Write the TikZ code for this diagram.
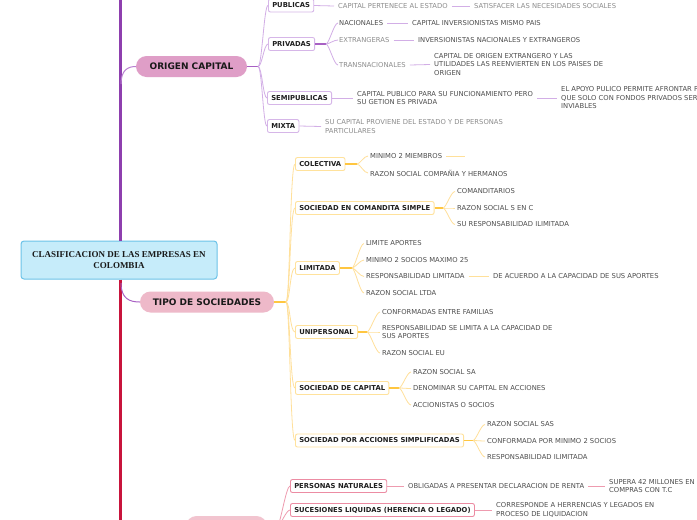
\documentclass[tikz,border=0pt]{standalone}
\usepackage{fontspec}
\newfontfamily\lbl{DejaVu Sans}
\newfontfamily\ttl{Liberation Serif}
\usetikzlibrary{calc}
\definecolor{trunkp}{HTML}{8E3FAE}
\definecolor{trunkr}{HTML}{C8143C}
\definecolor{cenfill}{HTML}{C6ECFA}
\definecolor{cenline}{HTML}{6CC3E8}
\definecolor{ocfill}{HTML}{DF9EC7}
\definecolor{tsfill}{HTML}{EEB9C9}
\definecolor{bpfill}{HTML}{F2C4CF}
\definecolor{pstem}{HTML}{A860C4}
\definecolor{pbr}{HTML}{D2AEE6}
\definecolor{pbox}{HTML}{D6B6E8}
\definecolor{ystem}{HTML}{FFC640}
\definecolor{ybr}{HTML}{FFE09A}
\definecolor{ybox}{HTML}{FFE29C}
\definecolor{rbr}{HTML}{EE9BAF}
\definecolor{rbox}{HTML}{EC8CA3}
\definecolor{txtg}{HTML}{4D4D4D}
\definecolor{txtl}{HTML}{8C8C8C}
\begin{document}
\begin{tikzpicture}[x=1pt,y=-1pt,
  txt/.style={anchor=west, inner sep=0pt, font=\lbl\fontsize{6.8}{8.5}\selectfont, text=txtg, align=left},
  ltxt/.style={txt, text=txtl},
  boxbase/.style={draw, fill=white, rounded corners=2pt, line width=0.9pt, anchor=west, inner xsep=3.8pt, inner ysep=0pt, minimum height=13pt, font=\lbl\bfseries\fontsize{6.8}{8}\selectfont, text=black!88},
  pboxs/.style={boxbase, draw=pbox},
  yboxs/.style={boxbase, draw=ybox},
  rboxs/.style={boxbase, draw=rbox},
  pill/.style={rounded corners=10.5pt, minimum height=21pt, inner sep=0pt, font=\lbl\bfseries\fontsize{9}{10}\selectfont, text=black!90},
  pst/.style={draw=pstem, line width=1.3pt},
  pln/.style={draw=pbr, line width=0.8pt},
  yst/.style={draw=ystem, line width=1.3pt},
  yln/.style={draw=ybr, line width=0.8pt},
  rln/.style={draw=rbr, line width=0.8pt}
]
\useasboundingbox (0,0) rectangle (697,520);
\clip (0,0) rectangle (697,520);
\fill[white] (0,0) rectangle (697,520);

% central node and trunk
\node[draw=cenline, fill=cenfill, line width=1pt, rounded corners=3pt, minimum width=196pt, minimum height=38pt, inner sep=0pt, align=center, font=\ttl\bfseries\fontsize{9}{11}\selectfont, text=black!90] (center) at (119,260) {CLASIFICACION DE LAS EMPRESAS EN\\COLOMBIA};
\coordinate (ttop) at (120,-5);
\coordinate (tbot) at (120,530);
\draw[trunkp, line width=3pt] (ttop) -- (center.north -| ttop);
\draw[trunkr, line width=3pt] (center.south -| tbot) -- (tbot);

% main branches
\node[pill, fill=ocfill, minimum width=111pt] (oc) at (191.5,66.5) {ORIGEN CAPITAL};
\node[pill, fill=tsfill, minimum width=134pt] (ts) at (207,302) {TIPO DE SOCIEDADES};
\node[pill, fill=bpfill, minimum width=81pt, minimum height=22pt] (bp) at (226.5,527) {};
\coordinate (ocj) at (121,84);
\coordinate (tsj) at (121,283);
\draw[draw=pstem!80, line width=1pt] (ocj) .. controls (121,70) and (128,66.5) .. (oc.west);
\draw[draw=pstem, line width=1pt] (tsj) .. controls (121,299) and (130,302) .. (ts.west);

% ORIGEN CAPITAL children
\node[pboxs] (pub) at (268,5.5) {PUBLICAS};
\node[pboxs] (pri) at (268,44) {PRIVADAS};
\node[pboxs] (semi) at (267,98) {SEMIPUBLICAS};
\node[pboxs] (mix) at (267,126) {MIXTA};
\coordinate (ocf) at (258,66.5);
\draw[pst] (oc.east) -- (ocf);
\foreach \c in {pub,pri,semi,mix}
  \draw[pln] (ocf) .. controls +(4,0) and +(-4,0) .. (\c.west);

\node[ltxt] (pub1) at (338,6) {CAPITAL PERTENECE AL ESTADO};
\node[ltxt] (pub2) at (474,6) {SATISFACER LAS NECESIDADES SOCIALES};
\draw[pln] (pub.east) -- ([xshift=-4pt]pub1.west);
\draw[pln] ([xshift=4pt]pub1.east) -- ([xshift=-4pt]pub2.west);

\node[txt] (nac) at (339,23) {NACIONALES};
\node[ltxt] (ext) at (339,40) {EXTRANGERAS};
\node[ltxt] (tra) at (339,65) {TRANSNACIONALES};
\coordinate (prif) at (326,44);
\draw[pst] (pri.east) -- (prif);
\foreach \c in {nac,ext,tra}
  \draw[pln] (prif) .. controls +(3,0) and +(-4,0) .. ([xshift=-1pt]\c.west);
\node[txt] (nac2) at (412,23) {CAPITAL INVERSIONISTAS MISMO PAIS};
\node[txt] (ext2) at (418,40) {INVERSIONISTAS NACIONALES Y EXTRANGEROS};
\node[txt] (tra2) at (434,64.5) {CAPITAL DE ORIGEN EXTRANGERO Y LAS\\UTILIDADES LAS REENVIERTEN EN LOS PAISES DE\\ORIGEN};
\draw[pln] ([xshift=4pt]nac.east) -- ([xshift=-4pt]nac2.west);
\draw[pln] ([xshift=4pt]ext.east) -- ([xshift=-4pt]ext2.west);
\draw[pln] ([xshift=4pt]tra.east) -- ([xshift=-4pt]tra2.west);

\node[txt] (semi1) at (357,98) {CAPITAL PUBLICO PARA SU FUNCIONAMIENTO PERO\\SU GETION ES PRIVADA};
\node[txt] (semi2) at (561,98) {EL APOYO PULICO PERMITE AFRONTAR PROYECTOS\\QUE SOLO CON FONDOS PRIVADOS SERIAN\\INVIABLES};
\draw[pln] (semi.east) -- ([xshift=-4pt]semi1.west);
\draw[pln] ([xshift=4pt]semi1.east) -- ([xshift=-4pt]semi2.west);

\node[ltxt] (mix1) at (325,126.5) {SU CAPITAL PROVIENE DEL ESTADO Y DE PERSONAS\\PARTICULARES};
\draw[pln] (mix.east) -- ([xshift=-4pt]mix1.west);

% TIPO DE SOCIEDADES children
\node[yboxs] (col) at (295,164) {COLECTIVA};
\node[yboxs] (com) at (295,208) {SOCIEDAD EN COMANDITA SIMPLE};
\node[yboxs] (lim) at (295,268) {LIMITADA};
\node[yboxs] (uni) at (295,332) {UNIPERSONAL};
\node[yboxs] (cap) at (295,388) {SOCIEDAD DE CAPITAL};
\node[yboxs] (sas) at (295,440.5) {SOCIEDAD POR ACCIONES SIMPLIFICADAS};
\coordinate (tsf) at (286,302);
\draw[yst] (ts.east) -- (tsf);
\foreach \c in {col,com,lim,uni,cap,sas}
  \draw[yln] (tsf) .. controls +(4,0) and +(-5,0) .. (\c.west);

% colectiva
\node[txt] (col1) at (370,156) {MINIMO 2 MIEMBROS};
\node[txt] (col2) at (370,173) {RAZON SOCIAL COMPAÑIA Y HERMANOS};
\coordinate (colf) at (357,164);
\draw[yst] (col.east) -- (colf);
\foreach \c in {col1,col2}
  \draw[yln] (colf) .. controls +(3,0) and +(-4,0) .. ([xshift=-2pt]\c.west);
\draw[yln] ([xshift=4pt]col1.east) -- ++(19,0) coordinate (col1e);

% comandita
\node[txt] (com1) at (457,191.5) {COMANDITARIOS};
\node[txt] (com2) at (457,208) {RAZON SOCIAL S EN C};
\node[txt] (com3) at (457,224.5) {SU RESPONSABILIDAD ILIMITADA};
\coordinate (comf) at (443,208);
\draw[yst] (com.east) -- (comf);
\foreach \c in {com1,com2,com3}
  \draw[yln] (comf) .. controls +(3,0) and +(-4,0) .. ([xshift=-2pt]\c.west);

% limitada
\node[txt] (lim1) at (366,243.5) {LIMITE APORTES};
\node[txt] (lim2) at (366,260) {MINIMO 2 SOCIOS MAXIMO 25};
\node[txt] (lim3) at (366,276.5) {RESPONSABILIDAD LIMITADA};
\node[txt] (lim4) at (366,293) {RAZON SOCIAL LTDA};
\node[txt] (lim3b) at (493,276.5) {DE ACUERDO A LA CAPACIDAD DE SUS APORTES};
\coordinate (limf) at (352,268);
\draw[yst] (lim.east) -- (limf);
\foreach \c in {lim1,lim2,lim3,lim4}
  \draw[yln] (limf) .. controls +(3,0) and +(-4,0) .. ([xshift=-2pt]\c.west);
\draw[yln] ([xshift=4pt]lim3.east) -- ([xshift=-4pt]lim3b.west);

% unipersonal
\node[txt] (uni1) at (382,312) {CONFORMADAS ENTRE FAMILIAS};
\node[txt] (uni2) at (382,332) {RESPONSABILIDAD SE LIMITA A LA CAPACIDAD DE\\SUS APORTES};
\node[txt] (uni3) at (382,353) {RAZON SOCIAL EU};
\coordinate (unif) at (367,332);
\draw[yst] (uni.east) -- (unif);
\foreach \c in {uni1,uni2,uni3}
  \draw[yln] (unif) .. controls +(3,0) and +(-4,0) .. ([xshift=-2pt]\c.west);

% sociedad de capital
\node[txt] (cap1) at (413,372) {RAZON SOCIAL SA};
\node[txt] (cap2) at (413,388.5) {DENOMINAR SU CAPITAL EN ACCIONES};
\node[txt] (cap3) at (413,405) {ACCIONISTAS O SOCIOS};
\coordinate (capf) at (399,388);
\draw[yst] (cap.east) -- (capf);
\foreach \c in {cap1,cap2,cap3}
  \draw[yln] (capf) .. controls +(3,0) and +(-4,0) .. ([xshift=-2pt]\c.west);

% SAS
\node[txt] (sas1) at (487,424.5) {RAZON SOCIAL SAS};
\node[txt] (sas2) at (487,441) {CONFORMADA POR MINIMO 2 SOCIOS};
\node[txt] (sas3) at (487,457) {RESPONSABILIDAD ILIMITADA};
\coordinate (sasf) at (473,440.5);
\draw[yst] (sas.east) -- (sasf);
\foreach \c in {sas1,sas2,sas3}
  \draw[yln] (sasf) .. controls +(3,0) and +(-4,0) .. ([xshift=-2pt]\c.west);

% bottom branch
\node[rboxs] (pn) at (290,486) {PERSONAS NATURALES};
\node[rboxs] (suc) at (290,510) {SUCESIONES LIQUIDAS (HERENCIA O LEGADO)};
\coordinate (bpf) at (277,527);
\draw[draw=rbr, line width=1.2pt] (bp.east) -- (bpf);
\foreach \c in {pn,suc}
  \draw[rln] (bpf) .. controls +(3,0) and +(-4,0) .. (\c.west);
\node[txt] (pn1) at (408,486) {OBLIGADAS A PRESENTAR DECLARACION DE RENTA};
\node[txt] (pn2) at (609,486) {SUPERA 42 MILLONES EN CONSUMOS\\COMPRAS CON T.C};
\draw[rln] (pn.east) -- ([xshift=-4pt]pn1.west);
\draw[rln] ([xshift=4pt]pn1.east) -- ([xshift=-4pt]pn2.west);
\node[txt] (suc1) at (496,510) {CORRESPONDE A HERRENCIAS Y LEGADOS EN\\PROCESO DE LIQUIDACION};
\draw[rln] (suc.east) -- ([xshift=-4pt]suc1.west);
\end{tikzpicture}
\end{document}
